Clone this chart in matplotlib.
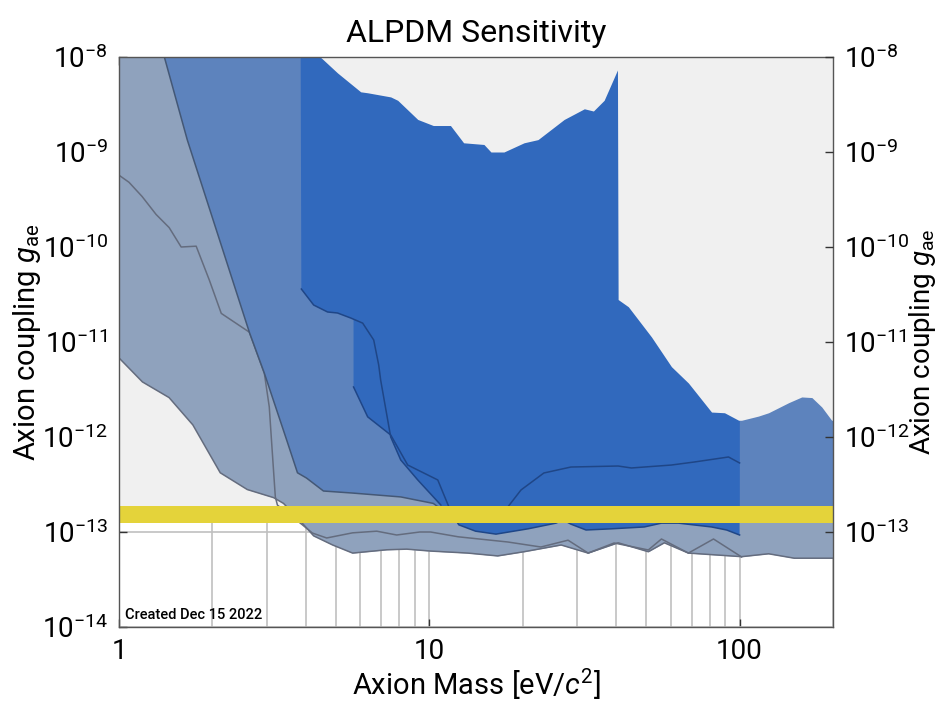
import numpy as np
import matplotlib
matplotlib.use("Agg")
import matplotlib.pyplot as plt
from matplotlib.ticker import LogLocator, NullLocator, NullFormatter

plt.rcParams['font.family'] = ['Roboto', 'DejaVu Sans']
plt.rcParams['mathtext.fontset'] = 'custom'
plt.rcParams['mathtext.rm'] = 'Roboto'
plt.rcParams['mathtext.it'] = 'Roboto:italic'

# ---------------- data ----------------
x_min, x_max = 1, 200
y_min, y_max = 1e-14, 1e-8

# slate region (lowest layer) lower boundary
a_low_m = [1.0, 1.19, 1.45, 1.73, 2.12, 2.59, 3.15, 3.39, 3.93, 4.24, 4.88, 5.66, 7.29, 8.46,
           10.1, 13.3, 16.6, 20.2, 26.6, 32.5, 40.6, 50.8, 57.2, 68.4, 101.5, 124, 150, 200]
a_low_g = [6.8e-12, 3.8e-12, 2.6e-12, 1.34e-12, 4.2e-13, 2.8e-13, 2.3e-13, 2.0e-13, 1.2e-13, 9.1e-14,
           7.3e-14, 6.0e-14, 6.5e-14, 6.6e-14, 6.3e-14, 6.0e-14, 5.6e-14, 6.2e-14, 7.3e-14, 6.0e-14,
           7.7e-14, 6.2e-14, 7.7e-14, 6.0e-14, 5.5e-14, 5.9e-14, 5.3e-14, 5.3e-14]
floor_cap = 1.5e-13

# second slate limit line
a2_m = [1.0, 1.077, 1.187, 1.317, 1.451, 1.586, 1.773, 1.954, 2.136, 2.63, 2.94, 3.05, 3.10, 3.19,
        3.24, 3.90, 4.20, 4.67, 5.66, 6.77, 7.85, 9.32, 10.1, 12.4, 17.9, 22.9, 28.0, 32.5, 39.4,
        50.8, 56.0, 68.4, 82.4, 101.5]
a2_g = [5.7e-10, 4.8e-10, 3.4e-10, 2.2e-10, 1.6e-10, 1.0e-10, 1.02e-10, 4.5e-11, 2.0e-11, 1.27e-11,
        4.7e-12, 2.07e-12, 9.3e-13, 2.34e-13, 1.92e-13, 1.19e-13, 9.75e-14, 8.65e-14, 9.8e-14,
        1.02e-13, 9.3e-14, 1.0e-13, 1.0e-13, 8.9e-14, 7.85e-14, 6.95e-14, 8.2e-14, 6.0e-14,
        7.66e-14, 6.47e-14, 8.44e-14, 6.0e-14, 8.44e-14, 5.46e-14]

# medium blue region edge
b_m = [1.40, 1.66, 2.63, 2.94, 3.47, 3.76, 4.02, 4.56, 5.66, 8.09, 10.3, 11.3]
b_g = [1e-8, 1.34e-9, 1.27e-11, 4.7e-12, 9.3e-13, 4.2e-13, 3.7e-13, 2.7e-13, 2.57e-13, 2.34e-13,
       2.0e-13, 1.6e-13]
b_floor = 1.6e-13

# dark blue region 1
c1_left = 3.85
c1_m = [3.87, 4.24, 4.70, 5.06, 5.58, 6.10, 6.62, 6.87, 6.97, 7.51, 8.09, 9.18, 10.9, 11.5, 100]
c1_g = [3.61e-11, 2.45e-11, 2.07e-11, 2.02e-11, 1.79e-11, 1.58e-11, 1.05e-11, 5.73e-12, 3.98e-12,
        1.0e-12, 5.73e-13, 3.53e-13, 1.92e-13, 1.6e-13, 1.6e-13]
c1_line_n = 13

# dark blue region 2
c2_m = [5.70, 6.33, 7.51, 8.52, 10.65, 11.5, 11.9, 12.45, 14.1, 16.4, 20.8, 25.6, 27.0, 28.6, 32.0,
        38.6, 49.3, 56.0, 63.5, 81.2, 90.8, 100]
c2_g = [3.36e-12, 1.63e-12, 1.05e-12, 5.07e-13, 3.53e-13, 1.92e-13, 1.51e-13, 1.19e-13, 1.02e-13,
        9.5e-14, 1.08e-13, 1.24e-13, 1.34e-13, 1.21e-13, 1.05e-13, 1.08e-13, 1.13e-13, 1.24e-13,
        1.24e-13, 1.13e-13, 1.05e-13, 9.3e-14]

# inner dark limit line
q_m = [17.4, 17.9, 19.75, 23.4, 28.6, 40.6, 44.8, 60.3, 71.6, 92.1, 100]
q_g = [1.51e-13, 1.83e-13, 2.77e-13, 4.18e-13, 4.83e-13, 4.95e-13, 4.72e-13, 5.07e-13, 5.46e-13,
       6.16e-13, 5.33e-13]

# unexplored (light grey) region above this boundary
top_m = [4.45, 4.53, 5.06, 6.01, 6.33, 7.51, 7.91, 9.18, 10.3, 11.7, 12.9, 15.0, 15.8, 17.4, 20.2,
         22.4, 27.2, 31.6, 33.8, 36.6, 40.4, 40.6, 43.8, 52, 60.3, 68.4, 81.2, 89.4, 99.3, 101.5,
         115, 124, 144, 158.6, 171, 184, 198, 200]
top_g = [1e-8, 9.5e-9, 6.8e-9, 4.3e-9, 4.2e-9, 3.8e-9, 3.5e-9, 2.2e-9, 1.9e-9, 1.9e-9, 1.25e-9,
         1.2e-9, 1.0e-9, 1.0e-9, 1.25e-9, 1.35e-9, 2.2e-9, 2.85e-9, 2.7e-9, 3.5e-9, 7.3e-9, 2.8e-11,
         2.35e-11, 1.13e-11, 5.5e-12, 3.7e-12, 1.83e-12, 1.8e-12, 1.5e-12, 1.5e-12, 1.66e-12, 1.8e-12,
         2.3e-12, 2.64e-12, 2.6e-12, 2.07e-12, 1.5e-12, 1.5e-12]

# yellow band
band_low, band_high = 1.25e-13, 1.9e-13

# ---------------- style ----------------
c_bg = '#f0f0f0'
c_slate = '#8fa2bd'
c_mid = '#5d83bd'
c_dark = '#3169bd'
c_slate_edge = '#646c7e'
c_mid_edge = '#445876'
c_dark_edge = '#1f4687'
c_yellow = '#e4d33a'

fig = plt.figure(figsize=(9.38, 7.03), dpi=100)
ax = fig.add_axes([119/938, 1-627/703, (833-119)/938, (627-57)/703])
ax.set_xscale('log')
ax.set_yscale('log')
ax.set_xlim(x_min, x_max)
ax.set_ylim(y_min, y_max)
ax.set_facecolor('white')

ax.xaxis.set_minor_locator(LogLocator(base=10, subs=np.arange(2, 10)))
ax.xaxis.set_minor_formatter(NullFormatter())
ax.yaxis.set_minor_locator(NullLocator())
ax.set_axisbelow(True)
ax.grid(True, which='both', axis='x', color='#c0c0c0', lw=1.2)
ax.grid(True, which='major', axis='y', color='#c0c0c0', lw=1.2)

# light grey background above the floor
floor_g = np.minimum(np.array(a_low_g), floor_cap)
ax.fill_between(a_low_m, floor_g, y_max, color=c_bg, lw=0, zorder=1)

# slate region
ax.fill_between(a_low_m, a_low_g, y_max, color=c_slate, lw=0, zorder=2)
ax.plot(a_low_m, a_low_g, color=c_slate_edge, lw=1.1, zorder=2.2)
ax.plot(a2_m, a2_g, color=c_slate_edge, lw=1.1, zorder=2.2)

# medium blue region
bx = list(b_m) + [x_max, x_max]
by = list(b_g) + [b_floor, y_max]
ax.fill(bx, by, color=c_mid, lw=0, zorder=3)
ax.plot(b_m, b_g, color=c_mid_edge, lw=1.1, zorder=3.2)

# dark blue regions
ax.fill([c1_left] + c1_m + [c1_m[-1]], [y_max] + c1_g + [y_max], color=c_dark, lw=0, zorder=4)
ax.fill([c2_m[0]] + c2_m + [c2_m[-1]], [y_max] + c2_g + [y_max], color=c_dark, lw=0, zorder=4)
ax.plot(c1_m[:c1_line_n], c1_g[:c1_line_n], color=c_dark_edge, lw=1.1, zorder=4.5)
ax.plot(c2_m, c2_g, color=c_dark_edge, lw=1.1, zorder=4.5)
ax.plot(q_m, q_g, color=c_dark_edge, lw=1.1, zorder=4.5)

# unexplored region on top
ax.fill_between(top_m, top_g, y_max, color=c_bg, lw=0, zorder=5)

# yellow band
ax.axhspan(band_low, band_high, color=c_yellow, lw=0, zorder=6)

ax.text(0.008, 0.008, 'Created Dec 15 2022', transform=ax.transAxes, fontsize=10.5,
        fontweight='medium', ha='left', va='bottom', zorder=7)

for s in ax.spines.values():
    s.set_color('#555555')
    s.set_linewidth(1.0)
    s.set_zorder(8)

ax.tick_params(which='major', direction='in', length=6, width=1, labelsize=20,
               top=True, right=False, pad=8, color='#333333')
ax.tick_params(which='minor', length=0)
ax.set_xticks([1, 10, 100])
ax.set_xticklabels(['1', '10', '100'])
ax.set_yticks([1e-14, 1e-13, 1e-12, 1e-11, 1e-10, 1e-9, 1e-8])

ax2 = ax.twinx()
ax2.set_yscale('log')
ax2.set_ylim(y_min, y_max)
ax2.yaxis.set_minor_locator(NullLocator())
ax2.set_yticks([1e-13, 1e-12, 1e-11, 1e-10, 1e-9, 1e-8])
ax2.tick_params(which='major', direction='in', length=6, width=1, labelsize=20, pad=8,
                color='#333333')
for s in ax2.spines.values():
    s.set_visible(False)

ylab = 'Axion coupling $g_{\\mathrm{ae}}$'
ax.set_ylabel(ylab, fontsize=21)
ax.yaxis.set_label_coords(-(119-27)/714, 0.5)
ax2.set_ylabel(ylab, fontsize=20, rotation=90)
ax2.yaxis.set_label_coords((922-119)/714, 0.5)
ax.set_xlabel('Axion Mass [eV/$c^2$]', fontsize=21)
ax.xaxis.set_label_coords(0.5, -(684-627)/570)
ax.xaxis.label.set_va('center')
ax.yaxis.label.set_va('center')
ax2.yaxis.label.set_va('center')
ax.set_title('ALPDM Sensitivity', fontsize=23, pad=11)

fig.savefig('out.png', dpi=100)
